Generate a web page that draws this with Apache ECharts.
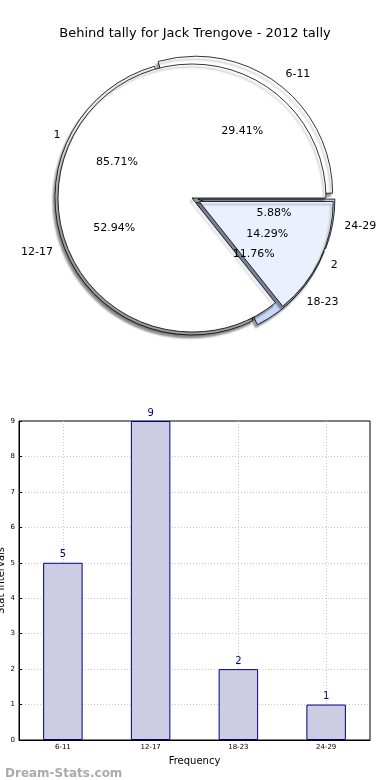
<!DOCTYPE html>
<html><head><meta charset="utf-8">
<script src="https://cdn.jsdelivr.net/npm/echarts@6/dist/echarts.min.js"></script>
<style>html,body{margin:0;padding:0;background:#fff}#c{width:390px;height:780px}</style>
</head><body><div id="c"></div>
<script>
const titleText = 'Behind tally for Jack Trengove - 2012 tally';
const outerNames = ['6-11', '12-17', '18-23', '24-29'];
const outerValues = [5, 9, 2, 1];
const innerNames = ['1', '2'];
const innerValues = [6, 1];
const barCategories = ['6-11', '12-17', '18-23', '24-29'];
const barValues = [5, 9, 2, 1];
const yTicks = [0, 1, 2, 3, 4, 5, 6, 7, 8, 9];

const FONT = 'DejaVu Sans';
const CX = 192, CY = 198, R = 134;
const outerColors = ['#ffffff', '#ffffff', '#c5d8f9', '#c5d8f9'];
const innerColors = ['#ffffff', '#eaf1fd'];
const outerExplode = [true, false, true, true];
const innerExplode = [false, true];

const shadow = {shadowBlur: 2, shadowColor: 'rgba(0,0,0,0.4)', shadowOffsetX: -2, shadowOffsetY: 3};

function pieData(names, values, colors, explode) {
  return names.map((n, i) => ({name: n, value: values[i], selected: explode[i],
    itemStyle: Object.assign({color: colors[i], borderColor: '#000', borderWidth: 0.8}, shadow)}));
}
function labelData(names, values) {
  return names.map((n, i) => ({name: n, value: values[i]}));
}
function pct(values) {
  const total = values.reduce((a, b) => a + b, 0);
  return p => (p.value / total * 100).toFixed(2) + '%';
}

const chart = echarts.init(document.getElementById('c'), null, {renderer: 'canvas'});
chart.setOption({
  animation: false,
  backgroundColor: '#fff',
  title: [{text: titleText, left: 'center', top: 22,
    textStyle: {fontFamily: FONT, fontSize: 13, fontWeight: 'normal', color: '#000'}},
    {text: 'Dream-Stats.com', left: 0, top: 763,
    textStyle: {fontFamily: FONT, fontSize: 12, fontWeight: 'bold', color: '#aaaaaa'}}],
  grid: {left: 19, right: 20, top: 421, bottom: 40, show: true, borderColor: '#000', borderWidth: 1,
    outerBoundsMode: 'none', containLabel: false},
  xAxis: {type: 'category', data: barCategories, name: 'Frequency', nameLocation: 'middle', nameGap: 16,
    nameMoveOverlap: false,
    nameTextStyle: {fontFamily: FONT, fontSize: 10, color: '#000'},
    axisLine: {lineStyle: {color: '#000'}},
    axisTick: {inside: true, alignWithLabel: true, length: 3, lineStyle: {color: '#000'}},
    axisLabel: {fontFamily: FONT, fontSize: 7, color: '#000', margin: 4},
    splitLine: {show: true, alignWithLabel: true, lineStyle: {color: '#c8c8c8', type: [1, 2]}}},
  yAxis: {type: 'value', min: 0, max: 9, interval: 1, name: 'Stat Intervals', nameLocation: 'middle', nameGap: 13,
    nameMoveOverlap: false,
    nameTextStyle: {fontFamily: FONT, fontSize: 10, color: '#000'},
    axisLine: {show: true, lineStyle: {color: '#000'}},
    axisTick: {show: true, inside: true, length: 3, lineStyle: {color: '#000'}},
    axisLabel: {fontFamily: FONT, fontSize: 7, color: '#000', margin: 4, formatter: v => yTicks.includes(v) ? String(v) : ''},
    splitLine: {show: true, showMinLine: false, showMaxLine: false, lineStyle: {color: '#c8c8c8', type: [1, 2]}}},
  series: [
    {type: 'pie', center: [CX, CY], radius: [0, R + 3], startAngle: 0, clockwise: false,
     selectedMode: 'multiple', selectedOffset: 6, avoidLabelOverlap: false, silent: true, z: 1,
     data: pieData(outerNames, outerValues, outerColors, outerExplode),
     label: {show: true, position: 'outside', fontFamily: FONT, fontSize: 11, color: '#000', formatter: '{b}', distanceToLabelLine: 0},
     labelLine: {show: false, length: 12, length2: 0}},
    {type: 'pie', center: [CX, CY], radius: [0, R], startAngle: 0, clockwise: false,
     selectedMode: 'multiple', selectedOffset: 8, avoidLabelOverlap: false, silent: true, z: 2,
     data: pieData(innerNames, innerValues, innerColors, innerExplode),
     label: {show: true, position: 'outside', fontFamily: FONT, fontSize: 11, color: '#000', formatter: '{b}', distanceToLabelLine: 0},
     labelLine: {show: false, length: 12, length2: 0}},
    {type: 'pie', center: [CX, CY], radius: [0, R * 1.2], startAngle: 0, clockwise: false, silent: true, z: 3,
     data: labelData(outerNames, outerValues), itemStyle: {color: 'rgba(0,0,0,0)'},
     label: {show: true, position: 'inside', fontFamily: FONT, fontSize: 11, color: '#000', formatter: pct(outerValues)}},
    {type: 'pie', center: [CX, CY], radius: [0, R * 1.2], startAngle: 0, clockwise: false, silent: true, z: 3,
     data: labelData(innerNames, innerValues), itemStyle: {color: 'rgba(0,0,0,0)'},
     label: {show: true, position: 'inside', fontFamily: FONT, fontSize: 11, color: '#000', formatter: pct(innerValues)}},
    {type: 'bar', data: barValues, barWidth: '45%',
     itemStyle: {color: '#cccce3', borderColor: '#000080', borderWidth: 1},
     label: {show: true, position: 'top', fontFamily: FONT, fontSize: 10, color: '#000080', distance: 3}}
  ]
});
</script></body></html>
